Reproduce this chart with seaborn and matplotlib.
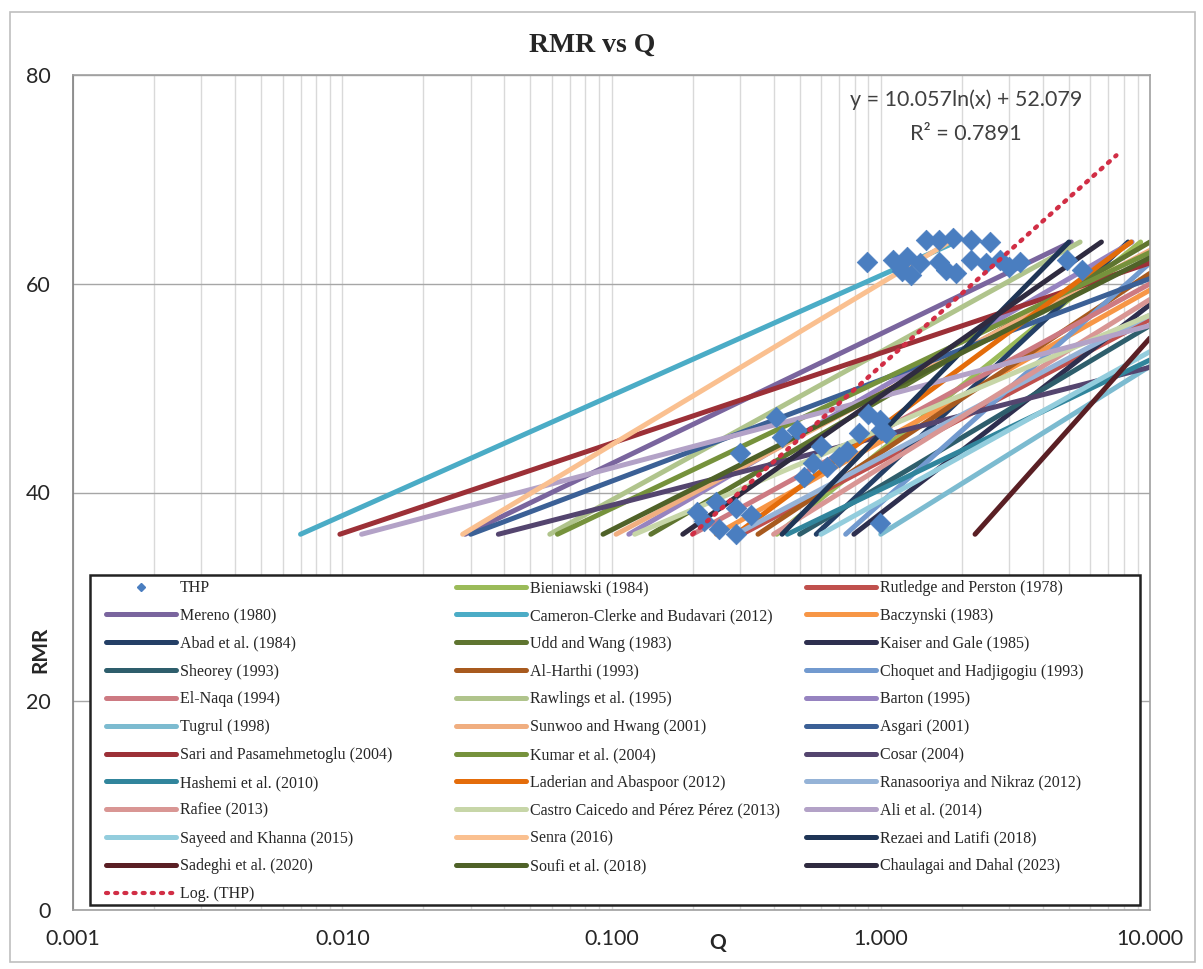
import numpy as np
import pandas as pd
import matplotlib.pyplot as plt
import seaborn as sns
from matplotlib.legend import Legend
from matplotlib.lines import Line2D
from matplotlib.patches import Rectangle
from matplotlib.ticker import FixedLocator, FixedFormatter, NullFormatter

# THP site data
thp_q = [0.89, 1.11, 1.25, 1.29, 1.47, 1.65, 1.85, 1.65, 1.75, 1.91, 2.16, 2.55,
         2.16, 2.47, 2.78, 3.0, 3.3, 4.9, 5.6, 1.40, 1.20,
         0.208, 0.245, 0.29, 0.30, 0.43, 0.49, 0.41, 0.56, 0.63, 0.70, 0.83,
         0.99, 1.05, 0.99, 0.29, 0.25, 0.22, 0.33, 0.60, 0.75, 0.90, 1.0, 0.52]
thp_rmr = [62.1, 62.3, 62.6, 60.8, 64.2, 64.2, 64.4, 62.1, 61.3, 61.0, 64.2, 64.0,
           62.3, 62.0, 62.3, 61.6, 62.1, 62.3, 61.3, 62.0, 61.2,
           38.1, 39.1, 38.5, 43.8, 45.3, 46.0, 47.2, 42.8, 42.4, 43.4, 45.7,
           46.9, 45.7, 37.1, 36.0, 36.5, 37.3, 37.8, 44.5, 44.0, 47.5, 46.0, 41.5]

# published RMR-Q correlations, in the chart's series order
studies = ['Bieniawski (1984)', 'Rutledge and Perston (1978)', 'Mereno (1980)',
           'Cameron-Clerke and Budavari (2012)', 'Baczynski (1983)', 'Abad et al. (1984)',
           'Udd and Wang (1983)', 'Kaiser and Gale (1985)', 'Sheorey (1993)',
           'Al-Harthi (1993)', 'Choquet and Hadjigogiu (1993)', 'El-Naqa (1994)',
           'Rawlings et al. (1995)', 'Barton (1995)', 'Tugrul (1998)',
           'Sunwoo and Hwang (2001)', 'Asgari (2001)', 'Sari and Pasamehmetoglu (2004)',
           'Kumar et al. (2004)', 'Cosar (2004)', 'Hashemi et al. (2010)',
           'Laderian and Abaspoor (2012)', 'Ranasooriya and Nikraz (2012)', 'Rafiee (2013)',
           'Castro Caicedo and Pérez Pérez (2013)', 'Ali et al. (2014)', 'Sayeed and Khanna (2015)',
           'Senra (2016)', 'Rezaei and Latifi (2018)', 'Sadeghi et al. (2020)',
           'Soufi et al. (2018)', 'Chaulagai and Dahal (2023)']
# Q where each line starts (RMR = 36) and the visible end of each line
q_start = [0.411, 0.305, 0.0286, 0.0070, 0.245, 0.576,
           0.140, 0.795, 0.50, 0.35, 0.741, 0.20,
           0.059, 0.116, 1.0, 0.104, 0.030, 0.0098,
           0.063, 0.038, 0.45, 0.29, 0.29, 0.40,
           0.122, 0.0118, 0.60, 0.028, 0.43, 2.24,
           0.093, 0.184]
q_end = [9.23, 10, 5.1, 1.9, 10, 8.29,
         10, 10, 10, 10, 10, 10,
         5.5, 8.58, 10, 10, 10, 10,
         10, 10, 10, 8.5, 10, 10,
         10, 10, 10, 1.8, 5.0, 10,
         10, 6.6]
rmr_end = [64, 56.6, 64, 64, 59.4, 64,
           64, 58, 56, 61, 62, 60,
           64, 64, 52.1, 63.2, 60.5, 62,
           63, 52, 52.7, 64, 57, 58.5,
           57, 56, 53.5, 64, 64, 54.8,
           62.5, 64]
colors = ['#9BBB59', '#C0504D', '#7A659E', '#4BACC6', '#F79646', '#243F66',
          '#5F7530', '#2E2F4F', '#2E5E6C', '#A85A1E', '#729ACF', '#CD7A82',
          '#B0C48C', '#9683C0', '#7CBBD0', '#F0AE80', '#3B6096', '#9C3037',
          '#76923C', '#54456F', '#31859C', '#E46C0A', '#95B3D7', '#D99694',
          '#C7D6A8', '#B3A2C7', '#93CDDD', '#FAC090', '#1F3556', '#5A1F24',
          '#4F6228', '#2F2B40']
RMR_START = 36

# Excel logarithmic trendline of THP, y = 10.057ln(x) + 52.079
trend_q = [0.20, 7.5]
trend_rmr = [36.0, 72.3]

rows = []
for name, qs, qe, re_ in zip(studies, q_start, q_end, rmr_end):
    rows.append((name, qs, RMR_START))
    rows.append((name, qe, re_))
lines_df = pd.DataFrame(rows, columns=['study', 'Q', 'RMR'])
thp_df = pd.DataFrame({'Q': thp_q, 'RMR': thp_rmr})
palette = dict(zip(studies, colors))

sns.set_style('white')
fig = plt.figure(figsize=(12.03, 9.69), dpi=100)
ax = fig.add_axes([73 / 1203, 1 - 910 / 969, 1077 / 1203, 835 / 969])

sns.lineplot(data=lines_df, x='Q', y='RMR', hue='study', hue_order=studies,
             palette=palette, linewidth=3.6, estimator=None, sort=False,
             legend=False, ax=ax)
for ln in ax.lines:
    ln.set_solid_capstyle('round')
sns.scatterplot(data=thp_df, x='Q', y='RMR', marker='D', s=110, color='#4A7EC0',
                edgecolor='#4A7EC0', linewidth=0.5, zorder=3, ax=ax)
ax.plot(trend_q, trend_rmr, linestyle=(0, (0.5, 1.7)), color='#D12E45',
        linewidth=3.2, dash_capstyle='round', zorder=4)

ax.set_xscale('log')
ax.set_xlim(0.001, 10)
ax.set_ylim(0, 80)
decades = [0.001, 0.01, 0.1, 1, 10]
ax.xaxis.set_major_locator(FixedLocator(decades))
ax.xaxis.set_major_formatter(FixedFormatter(['0.001', '0.010', '0.100', '1.000', '10.000']))
minor = [m * d for d in decades[:-1] for m in range(2, 10)]
ax.xaxis.set_minor_locator(FixedLocator(minor))
ax.xaxis.set_minor_formatter(NullFormatter())
ax.set_yticks([0, 20, 40, 60, 80])
ax.grid(True, which='major', axis='y', color='#A6A6A6', linewidth=1.0)
ax.grid(True, which='both', axis='x', color='#D9D9D9', linewidth=1.0)
ax.set_axisbelow(True)
ax.tick_params(length=0, labelsize=15.5, pad=14)
for lab in ax.get_xticklabels() + ax.get_yticklabels():
    lab.set_family('Lato')
ax.tick_params(axis='y', pad=16)
for sp in ax.spines.values():
    sp.set_color('#A0A0A0')
    sp.set_linewidth(1.2)
ax.spines['left'].set_color('#808080')
ax.set_xlabel('')
ax.set_ylabel('')

fig.text(592 / 1203, 1 - 45 / 969, 'RMR vs Q', ha='center', va='center',
         family='Liberation Serif', weight='bold', fontsize=20)
fig.text(40 / 1203, 1 - 650 / 969, 'RMR', rotation=90, ha='center', va='center',
         family='Lato', weight='bold', fontsize=15)
fig.text(718 / 1203, 1 - 943 / 969, 'Q', ha='center', va='center',
         family='Lato', weight='bold', fontsize=15)
fig.text(966 / 1203, 1 - 100 / 969, 'y = 10.057ln(x) + 52.079', ha='center', va='center',
         family='Lato', fontsize=15.5, color='#404040')
fig.text(966 / 1203, 1 - 134 / 969, 'R² = 0.7891', ha='center', va='center',
         family='Lato', fontsize=15.5, color='#404040')

# legend: white box with three columns laid out like Excel
ax.add_patch(Rectangle((17 / 1077, 5 / 835), 1050 / 1077, 330 / 835,
                       transform=ax.transAxes, facecolor='white', edgecolor='#222222',
                       linewidth=1.8, zorder=5))
handles = {}
handles['THP'] = Line2D([], [], linestyle='none', marker='D', markersize=4.5,
                        color='#4A7EC0')
for name, c in zip(studies, colors):
    handles[name] = Line2D([], [], color=c, linewidth=3.6)
handles['Log. (THP)'] = Line2D([], [], color='#D12E45', linewidth=3.0,
                               linestyle=(0, (0.5, 1.7)), dash_capstyle='round')
order = ['THP'] + studies
columns = [order[0::3] + ['Log. (THP)'], order[1::3], order[2::3]]
col_x = [30 / 1077, 380 / 1077, 730 / 1077]
for names, x0 in zip(columns, col_x):
    lg = Legend(ax, [handles[n] for n in names], names, loc='upper left',
                bbox_to_anchor=(x0, 333 / 835), bbox_transform=ax.transAxes,
                frameon=False, prop={'family': 'Liberation Serif', 'size': 11.5},
                handlelength=4.4, handletextpad=0.2, labelspacing=0.74,
                borderaxespad=0, borderpad=0.2)
    lg.set_zorder(6)
    ax.add_artist(lg)

fig.patches.append(Rectangle((10 / 1203, 1 - 962 / 969), 1185 / 1203, 950 / 969,
                             transform=fig.transFigure, fill=False,
                             edgecolor='#BFBFBF', linewidth=1.2))
fig.savefig('out.png', dpi=100)
